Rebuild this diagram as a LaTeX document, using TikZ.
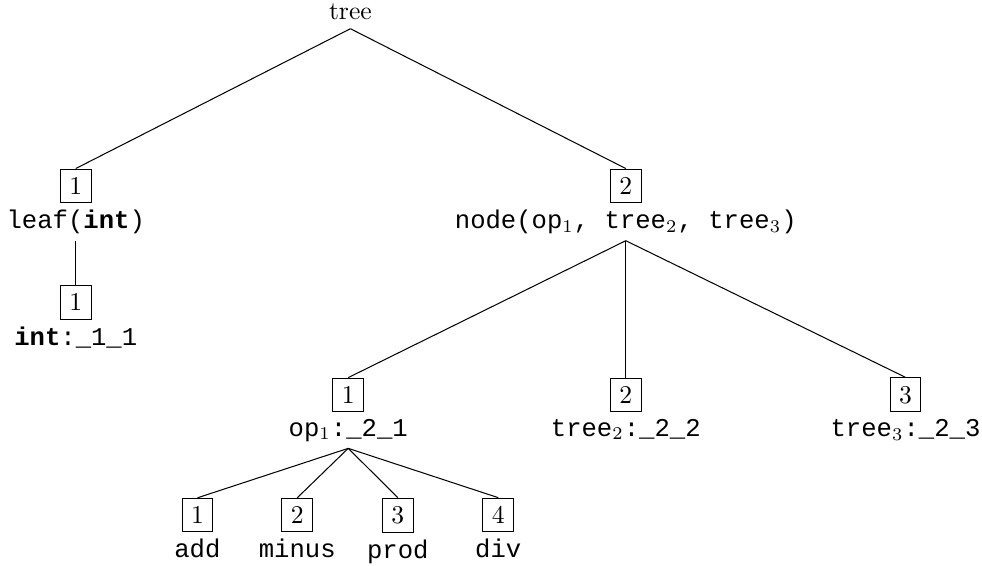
\documentclass[tikz,border=0pt]{standalone}
\usepackage{fontspec}
\setmonofont{Liberation Mono}
\usetikzlibrary{positioning}

\tikzset{
  numbox/.style={draw, inner xsep=3.5pt, inner ysep=3.2pt},
  term/.style={font=\ttfamily, inner sep=2.5pt}
}

\begin{document}
\begin{tikzpicture}
    \useasboundingbox (0,0) rectangle (13.48,-7.76);
    \node (root) at (4.81,-0.16) {tree};
    % numbered boxes: name/x/y/number
    \foreach \n/\x/\y/\k in {a/1.04/-2.55/1, aa/1.04/-4.15/1, b/8.59/-2.55/2,
        ba/4.78/-5.42/1, bb/8.59/-5.42/2, bc/12.43/-5.42/3,
        baa/2.71/-7.07/1, bab/4.08/-7.07/2, bac/5.46/-7.07/3, bad/6.84/-7.07/4}
        \node[numbox] (\n) at (\x,\y) {\k};
    % constructor text under each box
    \foreach \n/\t in {a/{leaf(\textbf{int})}, aa/{\textbf{int}:\_1\_1},
        b/{node(op$_1$, tree$_2$, tree$_3$)},
        ba/{op$_1$:\_2\_1}, bb/{tree$_2$:\_2\_2}, bc/{tree$_3$:\_2\_3},
        baa/add, bab/minus, bac/prod, bad/div}
        \node[term, below=0pt of \n] (\n-t) {\t};
    % edges
    \foreach \p/\c in {root/a, root/b, a-t/aa, b-t/ba, b-t/bb, b-t/bc,
        ba-t/baa, ba-t/bab, ba-t/bac, ba-t/bad}
        \draw (\p.south) -- (\c.north);
\end{tikzpicture}
\end{document}
